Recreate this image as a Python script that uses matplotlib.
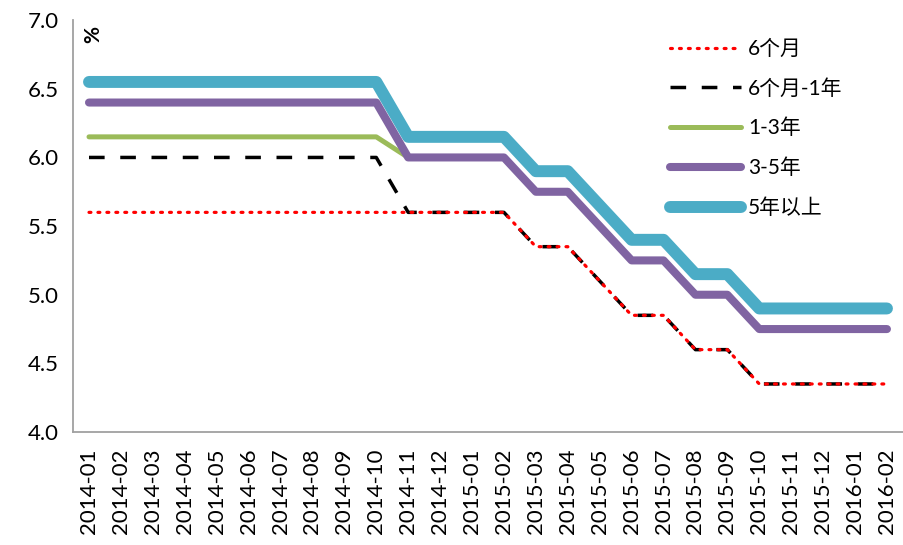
import matplotlib
matplotlib.use("Agg")
import matplotlib.pyplot as plt

plt.rcParams['font.family'] = ['Lato', 'Noto Sans CJK SC', 'DejaVu Sans']

months = ["2014-01", "2014-02", "2014-03", "2014-04", "2014-05", "2014-06", "2014-07",
          "2014-08", "2014-09", "2014-10", "2014-11", "2014-12", "2015-01", "2015-02",
          "2015-03", "2015-04", "2015-05", "2015-06", "2015-07", "2015-08", "2015-09",
          "2015-10", "2015-11", "2015-12", "2016-01", "2016-02"]

r_6m = [5.6, 5.6, 5.6, 5.6, 5.6, 5.6, 5.6, 5.6, 5.6, 5.6, 5.6, 5.6, 5.6, 5.6,
        5.35, 5.35, 5.1, 4.85, 4.85, 4.6, 4.6, 4.35, 4.35, 4.35, 4.35, 4.35]
r_6m_1y = [6.0, 6.0, 6.0, 6.0, 6.0, 6.0, 6.0, 6.0, 6.0, 6.0, 5.6, 5.6, 5.6, 5.6,
           5.35, 5.35, 5.1, 4.85, 4.85, 4.6, 4.6, 4.35, 4.35, 4.35, 4.35, 4.35]
r_1_3y = [6.15, 6.15, 6.15, 6.15, 6.15, 6.15, 6.15, 6.15, 6.15, 6.15, 6.0, 6.0, 6.0, 6.0,
          5.75, 5.75, 5.5, 5.25, 5.25, 5.0, 5.0, 4.75, 4.75, 4.75, 4.75, 4.75]
r_3_5y = [6.4, 6.4, 6.4, 6.4, 6.4, 6.4, 6.4, 6.4, 6.4, 6.4, 6.0, 6.0, 6.0, 6.0,
          5.75, 5.75, 5.5, 5.25, 5.25, 5.0, 5.0, 4.75, 4.75, 4.75, 4.75, 4.75]
r_5y = [6.55, 6.55, 6.55, 6.55, 6.55, 6.55, 6.55, 6.55, 6.55, 6.55, 6.15, 6.15, 6.15, 6.15,
        5.9, 5.9, 5.65, 5.4, 5.4, 5.15, 5.15, 4.9, 4.9, 4.9, 4.9, 4.9]

labels = ["6个月", "6个月-1年", "1-3年", "3-5年", "5年以上"]

fig = plt.figure(figsize=(9.04, 5.45), dpi=100)
ax = fig.add_axes([0.0808, 0.2073, 0.918, 0.7557])

x = list(range(len(months)))
l1, = ax.plot(x, r_6m, color="#FF0000", lw=2.3, linestyle=(0, (0.6, 2.2)),
              dash_capstyle='round', zorder=5, label=labels[0])
l2, = ax.plot(x, r_6m_1y, color="#000000", lw=2.5, linestyle=(0, (4.5, 4.5)),
              zorder=4, label=labels[1])
l3, = ax.plot(x, r_1_3y, color="#9BBB59", lw=3.6, solid_capstyle='round',
              solid_joinstyle='round', zorder=2, label=labels[2])
l4, = ax.plot(x, r_3_5y, color="#8064A2", lw=5.8, solid_capstyle='round',
              solid_joinstyle='round', zorder=3, label=labels[3])
l5, = ax.plot(x, r_5y, color="#4BACC6", lw=8.6, solid_capstyle='round',
              solid_joinstyle='round', zorder=1, label=labels[4])

ax.set_xlim(-0.5, len(months) - 0.5)
ax.set_ylim(4.0, 7.0)
yt = [4.0, 4.5, 5.0, 5.5, 6.0, 6.5, 7.0]
ax.set_yticks(yt)
ax.set_yticklabels([f"{v:.1f}" for v in yt], fontsize=16)
ax.set_xticks(x)
ax.set_xticklabels(months, rotation=90, fontsize=16)
ax.tick_params(axis='y', length=0, pad=10)
ax.tick_params(axis='x', length=0, pad=12)

for s in ["top", "right"]:
    ax.spines[s].set_visible(False)
for s in ["left", "bottom"]:
    ax.spines[s].set_color("#A0A0A0")
    ax.spines[s].set_linewidth(1.3)

ax.text(0.012, 0.985, "%", transform=ax.transAxes, rotation=90, fontsize=15,
        fontweight='bold', ha='left', va='top')

leg = ax.legend(handles=[l1, l2, l3, l4, l5], loc="upper right",
                bbox_to_anchor=(0.95, 1.0), frameon=False, fontsize=15,
                handlelength=3.4, labelspacing=0.95, handletextpad=0.35)

fig.savefig("out.png", dpi=100)
